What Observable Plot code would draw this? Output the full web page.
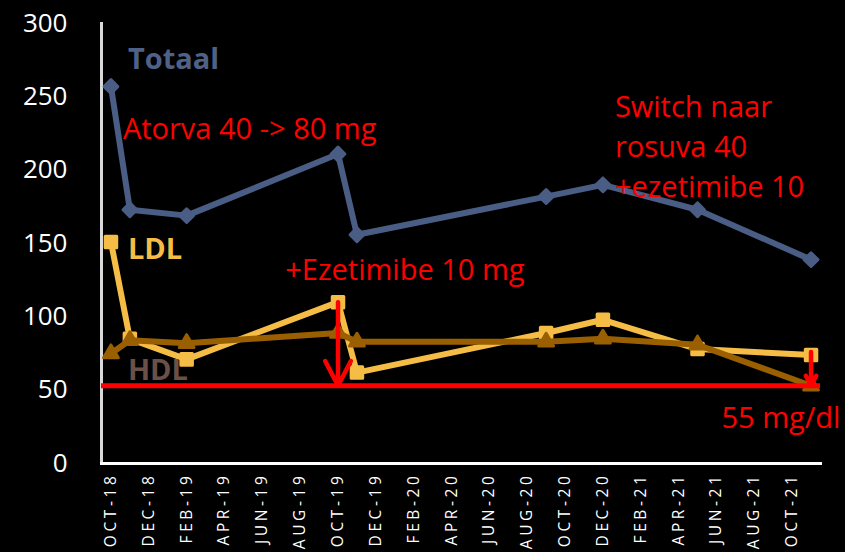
<!DOCTYPE html>
<html>
<head>
<meta charset="utf-8">
<script src="https://cdn.jsdelivr.net/npm/d3@7"></script>
<script src="https://cdn.jsdelivr.net/npm/@observablehq/plot@0.6"></script>
<style>
  html, body { margin: 0; padding: 0; background: #000; }
  #chart svg { display: block; }
  #chart g[aria-label="x-axis tick label"] text { letter-spacing: 3.6px; }
</style>
</head>
<body>
<div id="chart"></div>
<script>
// ---- data ----
const tickLabels = ["OCT-18","DEC-18","FEB-19","APR-19","JUN-19","AUG-19","OCT-19","DEC-19","FEB-20","APR-20","JUN-20","AUG-20","OCT-20","DEC-20","FEB-21","APR-21","JUN-21","AUG-21","OCT-21"];
const sampleMonths = ["OCT-18","NOV-18","FEB-19","OCT-19","NOV-19","SEP-20","DEC-20","MAY-21","NOV-21"];
const totaal = [257, 173, 169, 211, 156, 182, 190, 173, 139];
const ldl    = [151,  85,  71, 110,  62,  89,  98,  78,  74];
const hdl    = [ 75,  84,  82,  89,  83,  83,  85,  81,  53];
const target = 53;
const arrows = [
  {x: "OCT-19", from: 110, to: 53},
  {x: "NOV-21", from: 76, to: 53}
];
const seriesLabels = [
  {x: "NOV-18", y: 275, text: "Totaal", color: "#4F6187"},
  {x: "NOV-18", y: 146, text: "LDL", color: "#F5BD45"},
  {x: "NOV-18", y: 63, text: "HDL", color: "#6B5047"}
];
const notes = [
  {x: "NOV-18", y: 230, text: "Atorva 40 -> 80 mg", dx: -7},
  {x: "JUL-19", y: 134, text: "+Ezetimibe 10 mg", dx: 4},
  {x: "DEC-20", y: 218, text: "Switch naar\nrosuva 40\n+ezetimibe 10", dx: 12},
  {x: "JUN-21", y: 33, text: "55 mg/dl", dx: 5}
];

// month domain Oct-18 .. Nov-21
const fmt = d3.utcFormat("%b-%y");
const months = d3.utcMonth.range(new Date(Date.UTC(2018, 9, 1)), new Date(Date.UTC(2021, 11, 1))).map(d => fmt(d).toUpperCase());

const rows = (vals) => sampleMonths.map((m, i) => ({x: m, y: vals[i]}));
const T = rows(totaal), L = rows(ldl), H = rows(hdl);

const font = "'Open Sans', sans-serif";

const chart = Plot.plot({
  width: 845,
  height: 552,
  marginLeft: 101,
  marginRight: 25,
  marginTop: 23,
  marginBottom: 89,
  style: {background: "#000", color: "#fff", fontFamily: font},
  x: {type: "point", domain: months, padding: 0.5, label: null},
  y: {domain: [0, 300], label: null},
  marks: [
    Plot.axisY({ticks: [0, 50, 100, 150, 200, 250, 300], tickSize: 0, tickPadding: 34, fontSize: 26, fill: "#fff"}),
    Plot.axisX({ticks: tickLabels, tickSize: 0, tickRotate: -90, tickPadding: 9, fontSize: 15.5, fill: "#fff"}),
    Plot.frame({anchor: "left", stroke: "#D9D9D9", strokeWidth: 3}),
    Plot.frame({anchor: "bottom", stroke: "#fff", strokeWidth: 3}),
    // Totaal
    Plot.line(T, {x: "x", y: "y", stroke: "#4A5D84", strokeWidth: 6}),
    Plot.dot(T, {x: "x", y: "y", symbol: "square", rotate: 45, r: 5.5, fill: "#4A5D84", stroke: "#4A5D84", strokeWidth: 3, strokeLinejoin: "round"}),
    // LDL
    Plot.line(L, {x: "x", y: "y", stroke: "#F5BD45", strokeWidth: 6}),
    Plot.dot(L, {x: "x", y: "y", symbol: "square", r: 6.5, fill: "#F5BD45", stroke: "#F5BD45", strokeWidth: 3, strokeLinejoin: "round"}),
    // HDL
    Plot.line(H, {x: "x", y: "y", stroke: "#9A5F00", strokeWidth: 6}),
    Plot.dot(H, {x: "x", y: "y", symbol: "triangle", r: 5.5, fill: "#9A5F00", stroke: "#9A5F00", strokeWidth: 3, strokeLinejoin: "round"}),
    // target line
    Plot.ruleY([target], {stroke: "#FF0000", strokeWidth: 5}),
    // arrows
    Plot.arrow(arrows, {x: "x", y1: "from", y2: "to", stroke: "#FF0000", strokeWidth: 4.5, headLength: 13, headAngle: 55}),
    // series labels
    Plot.text(seriesLabels, {x: "x", y: "y", text: "text", fill: "color", textAnchor: "start", dx: -2, fontSize: 29, fontWeight: "bold"}),
    // annotations
    ...notes.map(n => Plot.text([n], {x: "x", y: "y", text: "text", dx: n.dx, fill: "#FF0000", textAnchor: "start", lineAnchor: "middle", fontSize: 29, lineHeight: 1.38}))
  ]
});
document.getElementById("chart").appendChild(chart);
</script>
</body>
</html>
